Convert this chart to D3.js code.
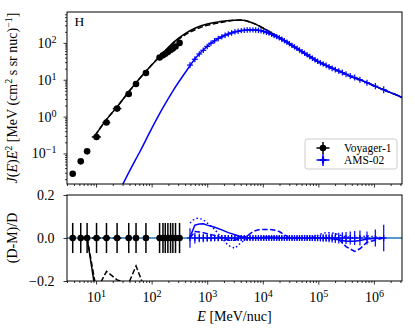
<!DOCTYPE html>
<html>
<head>
<meta charset="utf-8">
<script src="https://cdn.jsdelivr.net/npm/d3@7"></script>
<style>
  body { margin: 0; background: #fff; }
  svg text { font-family: "Liberation Serif", "Times New Roman", "DejaVu Serif", serif; }
</style>
</head>
<body>
<svg id="chart" width="415" height="330"></svg>
<script>
// ---- data (E in MeV/nuc, flux as J(E)E^2) ----
const voyagerE    = [3.8, 5.3, 6.9, 10.2, 15.4, 23.9, 38.7, 52.4, 79, 139, 160, 176, 196, 219, 241, 269, 318];
const voyagerLo   = [3.4, 4.8, 6.2, 8.4, 13.0, 20.0, 34.0, 46.0, 70, 130, 150, 166, 185, 207, 228, 255, 300];
const voyagerHi   = [4.3, 5.9, 7.7, 12.2, 18.0, 28.5, 44.0, 59.0, 89, 149, 170, 186, 207, 231, 254, 283, 336];
const voyagerFlux = [0.028, 0.061, 0.114, 0.28, 0.69, 1.65, 4.1, 7.7, 15.3, 40, 46, 51, 57, 64, 71, 80, 100];
const voyagerRelErr = [0.07, 0.07, 0.07, 0.07, 0.07, 0.07, 0.07, 0.07, 0.07, 0.07, 0.07, 0.07, 0.07, 0.07, 0.07, 0.07, 0.07];

const amsE = [490, 600, 720, 850, 1000, 1170, 1360, 1580, 1830, 2100, 2400, 2750, 3150, 3600, 4100, 4650, 5250, 5900,
  6650, 7450, 8350, 9300, 10400, 11600, 12900, 14400, 16000, 17800, 19800, 22000, 24500, 27200, 30200, 33500, 37200,
  41300, 45800, 50800, 56500, 62800, 70000, 78000, 87000, 97000, 109000, 122000, 138000, 156000, 177000, 202000,
  233000, 270000, 315000, 375000, 450000, 560000, 750000, 1060000, 1500000];
const amsFlux = [25, 36, 50, 63, 80, 98, 114, 132, 146, 162, 174, 186, 200, 207, 216, 221, 224, 226,
  226, 224, 220, 214, 204, 195, 184, 172, 158, 148, 138, 126, 115, 105, 95, 86, 78,
  71, 64, 58, 52.5, 47.3, 42.7, 38.5, 34.7, 31.6, 28.8, 26.6, 24.5, 22.4, 20.4, 18.8,
  17.2, 15.7, 14.1, 12.7, 11.5, 10.0, 8.3, 6.7, 5.4];
const amsRelErr = [0.045, 0.025, 0.02, 0.02, 0.018, 0.016, 0.015, 0.015, 0.014, 0.014, 0.013, 0.013, 0.013, 0.013, 0.013, 0.012, 0.012, 0.012,
  0.012, 0.012, 0.012, 0.012, 0.012, 0.012, 0.012, 0.012, 0.012, 0.012, 0.012, 0.012, 0.012, 0.012, 0.012, 0.012, 0.012,
  0.012, 0.013, 0.013, 0.013, 0.013, 0.014, 0.014, 0.015, 0.015, 0.016, 0.017, 0.018, 0.02, 0.021, 0.023,
  0.025, 0.027, 0.028, 0.03, 0.032, 0.035, 0.03, 0.04, 0.062];

// model curves
const blackModelE = [9.5, 15, 25, 40, 63, 100, 160, 250, 400, 630, 1000, 1600, 2500, 4000, 6300, 10000, 16000, 25000,
  40000, 63000, 1e5, 1.6e5, 2.5e5, 4e5, 6.3e5, 1e6, 1.6e6, 2.5e6, 3.2e6];
const blackSolid  = [0.30, 0.79, 2.0, 5.0, 11.5, 25.1, 52.5, 105, 178, 257, 324, 372, 407, 417, 355, 257, 168, 114,
  72, 47.3, 30.9, 22.1, 16.6, 12.0, 9.3, 6.9, 5.1, 3.9, 3.3];
const blackDashed = [0.30, 0.79, 2.0, 5.0, 11.5, 25.1, 52.5, 100, 165, 235, 300, 350, 395, 420, 355, 257, 168, 114,
  72, 47.3, 30.9, 22.1, 16.6, 12.0, 9.3, 6.9, 5.1, 3.9, 3.3];

const blueModelE = [20, 30, 40, 63, 100, 160, 250, 400, 630, 1000, 1600, 2500, 4000, 6300, 10000, 16000, 25000, 40000,
  63000, 1e5, 1.6e5, 2.5e5, 4e5, 6.3e5, 1e6, 1.6e6, 2.5e6, 3.2e6];
const blueModel  = [0.004, 0.0141, 0.033, 0.12, 0.47, 1.74, 5.4, 15.5, 40, 81, 132, 180, 214, 226, 209, 158, 112, 71,
  47.3, 30.9, 22.1, 16.6, 12.0, 9.3, 6.9, 5.1, 3.9, 3.3];

// residuals (D-M)/D
const blackResE      = [6.9, 10.2, 15.4, 23.9, 38.7, 52.4, 79, 139, 318];
const blackResSolid  = [0.0, -0.28, -0.35, -0.30, -0.28, -0.32, -0.40, -0.5, -0.6];
const blackResDashed = [0.0, -0.245, -0.155, -0.195, -0.21, -0.13, -0.25, -0.4, -0.5];

const blueResE = [490, 600, 720, 850, 1000, 1360, 1830, 2400, 3150, 4100, 5250, 6650, 8350, 10400, 12900, 16000, 19800,
  24500, 30200, 37200, 45800, 56500, 70000, 87000, 109000, 138000, 177000, 233000, 315000, 450000, 560000, 750000, 1500000];
const blueResSolid  = [0.005, 0.06, 0.065, 0.066, 0.06, 0.05, 0.038, 0.025, 0.015, 0.006, 0.002, 0, 0, 0.003, 0.005, 0.004, 0.002,
  0, 0, 0, 0, 0, 0, 0, 0, 0, -0.004, -0.008, -0.015, -0.015, -0.012, -0.005, 0];
const blueResDashed = [0.0, 0.03, 0.028, 0.025, 0.02, 0.012, 0.0, -0.01, -0.01, 0, 0.01, 0.03, 0.038, 0.04, 0.04, 0.037, 0.03,
  0.015, 0, 0, 0, 0, 0, 0, 0, 0, 0, -0.005, -0.04, -0.062, -0.05, -0.02, 0];
const blueResDotted = [0.07, 0.09, 0.092, 0.085, 0.07, 0.04, 0.0, -0.035, -0.048, -0.02, -0.005, 0, 0, 0, 0, 0, 0,
  0, 0, 0, 0, 0, 0, 0.005, 0.018, 0.025, 0.024, 0.015, 0.005, 0.0, 0.005, 0.01, 0];

const xMajor = [10, 100, 1e3, 1e4, 1e5, 1e6];
const yTopMajor = [0.1, 1, 10, 100];
const yBotMajor = [-0.2, 0.0, 0.2];
const legendItems = [
  { label: "Voyager-1", color: "black", kind: "dot" },
  { label: "AMS-02", color: "#0000ff", kind: "plus" }
];

// ---- layout ----
const serif = "'Liberation Serif', 'Times New Roman', 'DejaVu Serif', serif";
const blue = "#0000ff";
const plotL = 67, plotR = 402;
const topT = 12, topB = 184, botT = 195, botB = 281;

const svg = d3.select("#chart");

const x = d3.scaleLog().domain([3, 3.2e6]).range([plotL, plotR]);
const yTop = d3.scaleLog().domain([0.0148, 690]).range([topB, topT]);
const yBot = d3.scaleLinear().domain([-0.2, 0.2]).range([botB, botT]);

const defs = svg.append("defs");
defs.append("clipPath").attr("id", "clipTop").append("rect")
    .attr("x", plotL).attr("y", topT).attr("width", plotR - plotL).attr("height", topB - topT);
defs.append("clipPath").attr("id", "clipBot").append("rect")
    .attr("x", plotL).attr("y", botT).attr("width", plotR - plotL).attr("height", botB - botT);

const isPow10 = d => Math.abs(Math.log10(d) - Math.round(Math.log10(d))) < 1e-9;
const xMinor = x.ticks().filter(d => !isPow10(d));
const yTopMinor = yTop.ticks().filter(d => !isPow10(d));

function powLabel(sel) {
    sel.each(function(d) {
        const t = d3.select(this);
        const e = Math.round(Math.log10(d));
        t.text(null);
        t.append("tspan").text("10");
        t.append("tspan").attr("dy", "-0.5em").attr("font-size", "0.72em")
            .text(e < 0 ? "\u2212" + (-e) : e);
    });
}

function styleAxis(g) {
    g.attr("font-family", serif).attr("font-size", 14);
    g.select(".domain").remove();
    g.selectAll(".tick line").attr("stroke-width", 0.8);
}

// x axes (ticks on both panels, labels only below)
[topB, botB].forEach((yy, i) => {
    svg.append("g")
        .attr("transform", `translate(0,${yy})`)
        .call(d3.axisBottom(x).tickValues(xMinor).tickSize(2).tickFormat(""))
        .call(styleAxis);
    const gx = svg.append("g")
        .attr("transform", `translate(0,${yy})`)
        .call(d3.axisBottom(x).tickValues(xMajor).tickSize(3.5).tickPadding(8).tickFormat(i ? d => d : ""))
        .call(styleAxis);
    if (i) gx.selectAll(".tick text").call(powLabel);
});

// y axes
svg.append("g")
    .attr("transform", `translate(${plotL},0)`)
    .call(d3.axisLeft(yTop).tickValues(yTopMinor).tickSize(2).tickFormat(""))
    .call(styleAxis);
svg.append("g")
    .attr("transform", `translate(${plotL},0)`)
    .call(d3.axisLeft(yTop).tickValues(yTopMajor).tickSize(3.5).tickPadding(7).tickFormat(d => d))
    .call(styleAxis)
    .selectAll(".tick text").call(powLabel);
svg.append("g")
    .attr("transform", `translate(${plotL},0)`)
    .call(d3.axisLeft(yBot).tickValues(yBotMajor).tickSize(3.5).tickPadding(9).tickFormat(d3.format(".1f")))
    .call(styleAxis);

// ---- top panel ----
const topG = svg.append("g").attr("clip-path", "url(#clipTop)");

const lineTop = (E, F) => d3.line()
    .x((d, i) => x(E[i])).y(d => yTop(d))
    .curve(d3.curveMonotoneX)(F);

topG.append("path").attr("d", lineTop(blackModelE, blackSolid))
    .attr("fill", "none").attr("stroke", "black").attr("stroke-width", 1.5);
topG.append("path").attr("d", lineTop(blackModelE, blackDashed))
    .attr("fill", "none").attr("stroke", "black").attr("stroke-width", 1.5).attr("stroke-dasharray", "5.5,2.4");

// voyager points
topG.selectAll(".vxerr").data(voyagerE).join("line")
    .attr("x1", (d, i) => x(voyagerLo[i])).attr("x2", (d, i) => x(voyagerHi[i]))
    .attr("y1", (d, i) => yTop(voyagerFlux[i])).attr("y2", (d, i) => yTop(voyagerFlux[i]))
    .attr("stroke", "black").attr("stroke-width", 1.5);
topG.selectAll(".vyerr").data(voyagerE).join("line")
    .attr("x1", d => x(d)).attr("x2", d => x(d))
    .attr("y1", (d, i) => yTop(voyagerFlux[i] * (1 - voyagerRelErr[i])))
    .attr("y2", (d, i) => yTop(voyagerFlux[i] * (1 + voyagerRelErr[i])))
    .attr("stroke", "black").attr("stroke-width", 1.5);
topG.selectAll(".vdot").data(voyagerE).join("circle")
    .attr("cx", d => x(d)).attr("cy", (d, i) => yTop(voyagerFlux[i]))
    .attr("r", 3.3).attr("fill", "black");

// AMS points + model
topG.append("path").attr("d", lineTop(blueModelE, blueModel))
    .attr("fill", "none").attr("stroke", blue).attr("stroke-width", 1.5);
topG.selectAll(".ayerr").data(amsE).join("line")
    .attr("x1", d => x(d)).attr("x2", d => x(d))
    .attr("y1", (d, i) => yTop(amsFlux[i] * (1 - amsRelErr[i])) + 2.5)
    .attr("y2", (d, i) => yTop(amsFlux[i] * (1 + amsRelErr[i])) - 2.5)
    .attr("stroke", blue).attr("stroke-width", 1.2);
topG.selectAll(".aplus").data(amsE).join("path")
    .attr("transform", (d, i) => `translate(${x(d)},${yTop(amsFlux[i])})`)
    .attr("d", "M-3,0H3")
    .attr("stroke", blue).attr("stroke-width", 1.2);

svg.append("text").attr("x", 74.5).attr("y", 25.5)
    .attr("font-size", 13.5).text("H");

// ---- bottom panel ----
const botG = svg.append("g").attr("clip-path", "url(#clipBot)");

botG.append("line")
    .attr("x1", plotL).attr("x2", plotR)
    .attr("y1", yBot(0)).attr("y2", yBot(0))
    .attr("stroke", "#1f77b4").attr("stroke-width", 1.5);

const lineBot = (E, R) => d3.line()
    .x((d, i) => x(E[i])).y(d => yBot(d))(R);

botG.append("path").attr("d", lineBot(blackResE, blackResSolid))
    .attr("fill", "none").attr("stroke", "black").attr("stroke-width", 1.5);
botG.append("path").attr("d", lineBot(blackResE, blackResDashed))
    .attr("fill", "none").attr("stroke", "black").attr("stroke-width", 1.5).attr("stroke-dasharray", "5.5,2.4");

botG.append("path").attr("d", lineBot(blueResE, blueResSolid))
    .attr("fill", "none").attr("stroke", blue).attr("stroke-width", 1.5);
botG.append("path").attr("d", lineBot(blueResE, blueResDashed))
    .attr("fill", "none").attr("stroke", blue).attr("stroke-width", 1.5).attr("stroke-dasharray", "5.5,2.4");
botG.append("path").attr("d", lineBot(blueResE, blueResDotted))
    .attr("fill", "none").attr("stroke", blue).attr("stroke-width", 1.5).attr("stroke-dasharray", "1.5,2.5");

// voyager residual markers
botG.selectAll(".vbar").data(voyagerE).join("line")
    .attr("x1", d => x(d)).attr("x2", d => x(d))
    .attr("y1", (d, i) => yBot(-voyagerRelErr[i])).attr("y2", (d, i) => yBot(voyagerRelErr[i]))
    .attr("stroke", "black").attr("stroke-width", 1.5);
botG.selectAll(".vxbar").data(voyagerE).join("line")
    .attr("x1", (d, i) => x(voyagerLo[i])).attr("x2", (d, i) => x(voyagerHi[i]))
    .attr("y1", yBot(0)).attr("y2", yBot(0))
    .attr("stroke", "black").attr("stroke-width", 1.5);
botG.selectAll(".vdot2").data(voyagerE).join("circle")
    .attr("cx", d => x(d)).attr("cy", yBot(0)).attr("r", 3.3).attr("fill", "black");

// AMS residual markers
botG.selectAll(".abar").data(amsE).join("line")
    .attr("x1", d => x(d)).attr("x2", d => x(d))
    .attr("y1", (d, i) => yBot(-amsRelErr[i])).attr("y2", (d, i) => yBot(amsRelErr[i]))
    .attr("stroke", blue).attr("stroke-width", 1.2);
botG.selectAll(".aplus2").data(amsE).join("path")
    .attr("transform", d => `translate(${x(d)},${yBot(0)})`)
    .attr("d", "M-3,0H3M0,-3V3")
    .attr("stroke", blue).attr("stroke-width", 1.2);

// frames
[[topT, topB], [botT, botB]].forEach(([t, b]) => {
    svg.append("rect").attr("x", plotL).attr("y", t)
        .attr("width", plotR - plotL).attr("height", b - t)
        .attr("fill", "none").attr("stroke", "black").attr("stroke-width", 1);
});

// ---- axis labels ----
const yLab = svg.append("text")
    .attr("transform", "rotate(-90)")
    .attr("x", -(topT + topB) / 2).attr("y", 17)
    .attr("text-anchor", "middle").attr("font-size", 14);
const yParts = [
    { t: "J", i: 1 }, { t: "(" }, { t: "E", i: 1 }, { t: ")" }, { t: "E", i: 1 }, { t: "2", s: 1 },
    { t: " [MeV (cm" }, { t: "2", s: 1 }, { t: " s sr nuc)" }, { t: "\u22121", s: 1 }, { t: "]" }
];
let wasSup = false;
yParts.forEach(p => {
    const ts = yLab.append("tspan").text(p.t);
    if (p.i) ts.attr("font-style", "italic");
    if (p.s) { ts.attr("font-size", 10).attr("dy", wasSup ? 0 : -5.5); wasSup = true; }
    else { if (wasSup) ts.attr("dy", 5.5); wasSup = false; }
});

svg.append("text")
    .attr("transform", "rotate(-90)")
    .attr("x", -(botT + botB) / 2).attr("y", 17)
    .attr("text-anchor", "middle").attr("font-size", 14)
    .text("(D-M)/D");

const xLab = svg.append("text")
    .attr("x", (plotL + plotR) / 2).attr("y", 321)
    .attr("text-anchor", "middle").attr("font-size", 14);
xLab.append("tspan").attr("font-style", "italic").text("E");
xLab.append("tspan").text(" [MeV/nuc]");

// ---- legend ----
const leg = svg.append("g");
leg.append("rect").attr("x", 305).attr("y", 139).attr("width", 92).attr("height", 30).attr("rx", 2.5)
    .attr("fill", "white").attr("fill-opacity", 0.8).attr("stroke", "#cccccc").attr("stroke-width", 1);
legendItems.forEach((it, i) => {
    const cy = 148 + i * 12;
    const g = leg.append("g").attr("transform", `translate(323,${cy})`);
    g.append("path").attr("d", "M-6.5,0H6.5M0,-6V6")
        .attr("stroke", it.color).attr("stroke-width", 1.5);
    if (it.kind === "dot") g.append("circle").attr("r", 3.3).attr("fill", it.color);
    else g.append("path").attr("d", "M-3.5,0H3.5M0,-3.5V3.5").attr("stroke", it.color).attr("stroke-width", 2.2);
    leg.append("text").attr("x", 344).attr("y", cy + 4).attr("font-size", 11.5).text(it.label);
});
</script>
</body>
</html>
